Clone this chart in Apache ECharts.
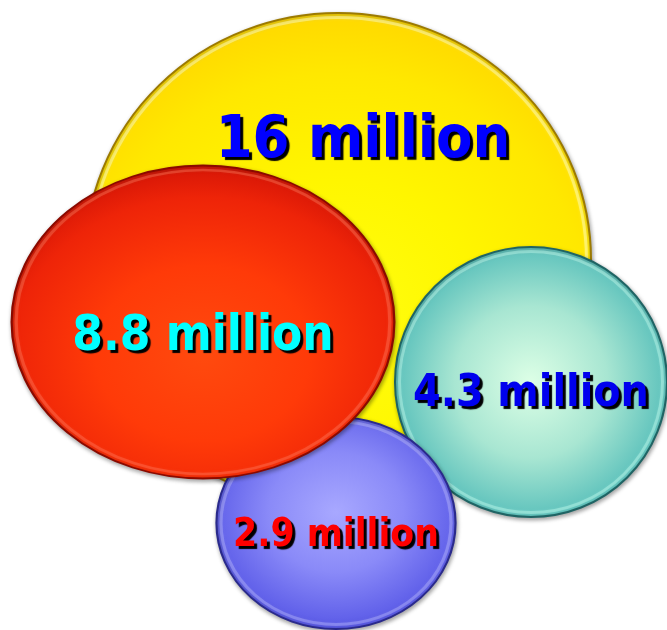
<!DOCTYPE html>
<html>
<head>
<meta charset="utf-8">
<style>
  html, body { margin: 0; padding: 0; background: #ffffff; }
  #chart { width: 667px; height: 630px; }
</style>
<script src="https://cdn.jsdelivr.net/npm/echarts@6/dist/echarts.min.js"></script>
</head>
<body>
<div id="chart"></div>
<script>
// Bubble values (millions), listed in drawing order (back to front)
const values = [16, 4.3, 2.9, 8.8];
// Bubble centre positions on the plotting plane
const xPos = [338, 531, 336, 203];
const yPos = [260, 382, 523, 322];

// ---- styling ----
const unit = 126.5;                       // px of width per sqrt(million)
const shape = [                           // per-bubble stretch [x, y]
  [1.0, 0.976],
  [1.037, 1.029],
  [1.11, 0.984],
  [1.02, 0.834]
];
const fills = [
  ['#FFFF10', '#FFF600', '#FFE800', '#FFD800'],
  ['#DDFFE6', '#A8E6D2', '#5EC2BC', '#2E9C9C'],
  ['#A8A8FF', '#8A8AF8', '#6262EA', '#4040CC'],
  ['#FF4A0E', '#FF3A08', '#EE2408', '#D01206']
];
const outlines = ['#9C7A00', '#1F6464', '#2A2A8C', '#8A0A00'];
const rims = ['rgba(255,255,200,0.45)', 'rgba(200,255,240,0.4)', 'rgba(200,200,255,0.35)', 'rgba(255,120,90,0.4)'];
const gradCentre = [[0.5, 0.62], [0.5, 0.5], [0.5, 0.45], [0.5, 0.6]];
const labelColors = ['#0000FF', '#0000EE', '#FF0000', '#00FFFF'];
const labelSizes = [59, 44.2, 38.6, 49];
const labelOffsets = [[25, -118], [0, 13], [0, 13], [0, 15]];

const ellipsePath = 'path://M0,50 A50,50 0 1,1 100,50 A50,50 0 1,1 0,50 Z';

function bubbleSize(i) {
  const base = unit * Math.sqrt(values[i]);
  return [base * shape[i][0], base * shape[i][1]];
}

const series = [];
values.forEach(function (v, i) {
  const c = fills[i];
  const size = bubbleSize(i);
  // the bubble body
  series.push({
    type: 'scatter',
    clip: false,
    silent: true,
    z: 2,
    data: [{
      value: [xPos[i], yPos[i], v],
      symbol: ellipsePath,
      symbolSize: size,
      itemStyle: {
        color: {
          type: 'radial', x: gradCentre[i][0], y: gradCentre[i][1], r: 0.62,
          colorStops: [
            { offset: 0, color: c[0] },
            { offset: 0.45, color: c[1] },
            { offset: 0.8, color: c[2] },
            { offset: 1, color: c[3] }
          ]
        },
        borderColor: outlines[i],
        borderWidth: 2,
        opacity: 1,
        shadowColor: 'rgba(0,0,0,0.35)',
        shadowBlur: 4,
        shadowOffsetX: 1,
        shadowOffsetY: 2
      }
    }]
  });
  // a soft bevel rim just inside the edge
  series.push({
    type: 'scatter',
    clip: false,
    silent: true,
    z: 2,
    data: [{
      value: [xPos[i], yPos[i], v],
      symbol: ellipsePath,
      symbolSize: [size[0] - 9, size[1] - 9],
      itemStyle: {
        color: 'rgba(0,0,0,0)',
        borderColor: rims[i],
        borderWidth: 3,
        opacity: 1,
        shadowColor: rims[i],
        shadowBlur: 3
      }
    }]
  });
});

// value labels, drawn above all bubbles
series.push({
  type: 'scatter',
  clip: false,
  silent: true,
  z: 5,
  symbolSize: 0,
  itemStyle: { opacity: 1 },
  data: values.map(function (v, i) {
    return {
      value: [xPos[i], yPos[i], v],
      label: {
        show: true,
        position: 'inside',
        offset: labelOffsets[i],
        formatter: function (p) { return p.value[2] + ' million'; },
        color: labelColors[i],
        opacity: 1,
        fontFamily: '"DejaVu Sans Condensed", "DejaVu Sans", sans-serif',
        fontWeight: 'bold',
        fontSize: labelSizes[i],
        textBorderWidth: 0,
        textBorderColor: 'transparent',
        textShadowColor: '#000000',
        textShadowBlur: 1,
        textShadowOffsetX: 3,
        textShadowOffsetY: 3
      }
    };
  })
});

const chart = echarts.init(document.getElementById('chart'), null, { renderer: 'canvas' });
chart.setOption({
  backgroundColor: '#ffffff',
  animation: false,
  grid: { left: 0, right: 0, top: 0, bottom: 0 },
  xAxis: { type: 'value', min: 0, max: 667, show: false },
  yAxis: { type: 'value', min: 0, max: 630, inverse: true, show: false },
  series: series
});
</script>
</body>
</html>
